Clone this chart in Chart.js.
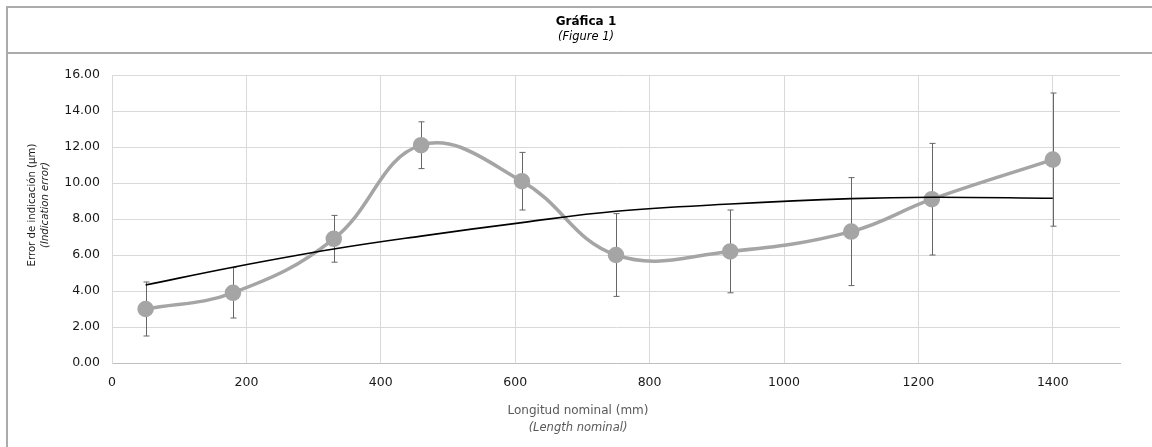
<!DOCTYPE html>
<html>
<head>
<meta charset="utf-8">
<script src="https://cdn.jsdelivr.net/npm/chart.js@4.4.1/dist/chart.umd.min.js"></script>
<style>
  body { margin: 0; background: #fff; }
  #wrap { width: 1152px; height: 447px; }
</style>
</head>
<body>
<div id="wrap"><canvas id="grafica" width="1152" height="447"></canvas></div>
<script>
// Datos
const longitudes = [50, 180, 330, 460, 610, 750, 920, 1100, 1220, 1400];
const errores = [3.0, 3.9, 6.9, 12.1, 10.1, 6.0, 6.2, 7.3, 9.1, 11.3];
const incertidumbre = [1.5, 1.4, 1.3, 1.3, 1.6, 2.3, 2.3, 3.0, 3.1, 3.7];
const tendencia = [4.33, 5.32, 6.33, 7.05, 7.8, 8.43, 8.83, 9.13, 9.21, 9.15];
const ticksX = [0, 200, 400, 600, 800, 1000, 1200, 1400];

const puntos = longitudes.map((x, i) => ({ x: x, y: errores[i] }));
const puntosTend = longitudes.map((x, i) => ({ x: x, y: tendencia[i] }));

// Marco, titulos y barras de error
const extras = {
    id: 'extras',
    beforeDraw(chart) {
        const ctx = chart.ctx;
        ctx.save();
        ctx.strokeStyle = '#ababab';
        ctx.lineWidth = 2;
        ctx.beginPath();
        ctx.moveTo(7, 460); ctx.lineTo(7, 7); ctx.lineTo(1170, 7);
        ctx.moveTo(7, 53); ctx.lineTo(1170, 53);
        ctx.stroke();

        ctx.textAlign = 'center';
        ctx.textBaseline = 'middle';
        ctx.fillStyle = '#000';
        ctx.font = 'bold 12px "DejaVu Sans"';
        ctx.fillText('Gráfica 1', 586, 22);
        ctx.font = 'italic 11.5px "DejaVu Sans"';
        ctx.fillText('(Figure 1)', 586, 37);

        ctx.fillStyle = '#595959';
        ctx.font = '12px "DejaVu Sans"';
        ctx.fillText('Longitud nominal (mm)', 578, 411);
        ctx.font = 'italic 11.5px "DejaVu Sans"';
        ctx.fillText('(Length nominal)', 578, 428);

        ctx.fillStyle = '#1a1a1a';
        ctx.translate(32, 205);
        ctx.rotate(-Math.PI / 2);
        ctx.font = '11.3px "DejaVu Sans Condensed", "DejaVu Sans"';
        ctx.fillText('Error de indicación (µm)', 0, 0);
        ctx.font = 'italic 11.3px "DejaVu Sans Condensed", "DejaVu Sans"';
        ctx.fillText('(Indication error)', 0, 13.5);
        ctx.restore();
    },
    beforeDatasetsDraw(chart) {
        const ctx = chart.ctx;
        const xs = chart.scales.x, ys = chart.scales.y;
        ctx.save();
        ctx.strokeStyle = '#666';
        ctx.lineWidth = 1;
        longitudes.forEach((x, i) => {
            const px = Math.round(xs.getPixelForValue(x)) + 0.5;
            const top = ys.getPixelForValue(errores[i] + incertidumbre[i]);
            const bot = ys.getPixelForValue(errores[i] - incertidumbre[i]);
            ctx.beginPath();
            ctx.moveTo(px, top); ctx.lineTo(px, bot);
            ctx.moveTo(px - 3, top); ctx.lineTo(px + 3, top);
            ctx.moveTo(px - 3, bot); ctx.lineTo(px + 3, bot);
            ctx.stroke();
        });
        ctx.restore();
    }
};

new Chart(document.getElementById('grafica').getContext('2d'), {
    type: 'scatter',
    data: {
        datasets: [{
            label: 'Tendencia',
            data: puntosTend,
            showLine: true,
            borderColor: '#000',
            borderWidth: 1.6,
            pointRadius: 0,
            tension: 0.4
        }, {
            label: 'Error de indicación',
            data: puntos,
            showLine: true,
            borderColor: '#a5a5a5',
            borderWidth: 3.5,
            backgroundColor: '#a5a5a5',
            pointBackgroundColor: '#a5a5a5',
            pointBorderColor: '#a5a5a5',
            pointRadius: 6.5,
            tension: 0.4
        }]
    },
    options: {
        responsive: false,
        animation: false,
        layout: { padding: { top: 75, right: 32, left: 0, bottom: 0 } },
        plugins: {
            legend: { display: false },
            tooltip: { enabled: false }
        },
        scales: {
            x: {
                type: 'linear',
                min: 0,
                max: 1500,
                afterBuildTicks(axis) {
                    axis.ticks = ticksX.map(v => ({ value: v }));
                },
                afterFit(axis) { axis.height = 447 - 363; },
                grid: { color: '#d9d9d9', drawTicks: false },
                border: { color: '#bfbfbf' },
                ticks: {
                    padding: 12,
                    color: '#1a1a1a',
                    font: { family: 'DejaVu Sans', size: 12.5 },
                    maxRotation: 0,
                    callback: v => String(v)
                }
            },
            y: {
                min: 0,
                max: 16,
                afterFit(axis) { axis.width = 112; },
                grid: { color: '#d9d9d9', drawTicks: false },
                border: { color: '#d9d9d9' },
                ticks: {
                    stepSize: 2,
                    padding: 12,
                    color: '#1a1a1a',
                    font: { family: 'DejaVu Sans', size: 12.5 },
                    callback: v => v.toFixed(2)
                }
            }
        }
    },
    plugins: [extras]
});
</script>
</body>
</html>
